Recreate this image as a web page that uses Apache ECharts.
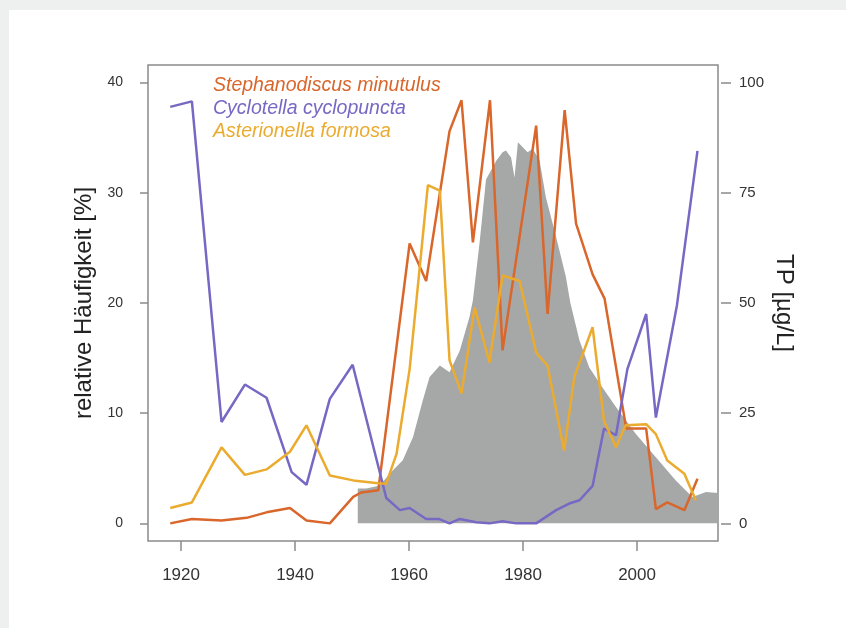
<!DOCTYPE html>
<html>
<head>
<meta charset="utf-8">
<script src="https://cdn.jsdelivr.net/npm/echarts@6/dist/echarts.min.js"></script>
<style>
html,body{margin:0;padding:0;background:#eef0ef;}
#card{position:absolute;left:9px;top:10px;width:837px;height:618px;background:#ffffff;}
#chart{position:absolute;left:0;top:0;width:846px;height:628px;}
</style>
</head>
<body>
<div id="card"></div>
<div id="chart"></div>
<script>
// ---- data ----
var xTicks = [1920, 1940, 1960, 1980, 2000];
var leftTicks = [0, 10, 20, 30, 40];
var rightTicks = [0, 25, 50, 75, 100];

var tpYears = [1951.0, 1952.5, 1954.9, 1956.6, 1958.9, 1960.7, 1962.4, 1963.6, 1965.4, 1967.1, 1968.9, 1970.6, 1971.2, 1972.4, 1973.5, 1975.3, 1976.4, 1977.0, 1977.9, 1978.5, 1979.1, 1980.0, 1980.8, 1981.7, 1982.9, 1984.0, 1985.8, 1987.5, 1988.3, 1989.9, 1991.6, 1993.9, 1996.3, 1999.8, 2003.3, 2006.8, 2009.7, 2012.1, 2014.2];
var tpValues = [7.9, 7.9, 8.6, 11.3, 14.3, 19.6, 27.9, 33.2, 35.8, 34.3, 39.2, 46.8, 50.6, 64.0, 78.0, 82.3, 84.2, 84.6, 83.0, 78.5, 86.5, 85.3, 84.2, 85.0, 82.3, 74.0, 65.0, 56.0, 50.0, 41.5, 35.4, 30.9, 26.4, 20.3, 15.0, 9.75, 6.0, 7.1, 6.9];

var stephYears = [1918.1, 1921.9, 1927.1, 1931.5, 1935.0, 1939.1, 1942.0, 1946.1, 1950.2, 1951.6, 1954.6, 1960.1, 1963.0, 1967.1, 1969.2, 1971.2, 1974.2, 1976.4, 1982.3, 1984.3, 1987.3, 1989.3, 1992.2, 1994.3, 1998.1, 2001.6, 2003.3, 2005.3, 2008.3, 2010.6];
var stephValues = [0, 0.4, 0.27, 0.5, 1.0, 1.4, 0.27, 0, 2.4, 2.8, 3.0, 25.4, 22.0, 35.6, 38.4, 25.5, 38.4, 15.7, 36.1, 19.0, 37.5, 27.2, 22.6, 20.4, 8.6, 8.6, 1.3, 1.9, 1.2, 4.05];

var cycloYears = [1918.1, 1921.9, 1927.1, 1931.2, 1935.0, 1939.4, 1942.0, 1946.1, 1950.1, 1956.0, 1958.4, 1960.1, 1963.0, 1965.2, 1967.1, 1968.9, 1971.8, 1974.1, 1976.4, 1978.8, 1982.3, 1985.8, 1988.1, 1989.9, 1992.2, 1994.2, 1996.3, 1998.3, 2001.6, 2003.3, 2007.0, 2010.6];
var cycloValues = [37.8, 38.3, 9.2, 12.6, 11.4, 4.65, 3.5, 11.3, 14.4, 2.3, 1.2, 1.4, 0.4, 0.4, 0, 0.4, 0.1, 0, 0.2, 0, 0, 1.2, 1.8, 2.1, 3.4, 8.6, 8.0, 14.0, 19.0, 9.6, 19.8, 33.8];

var asterYears = [1918.1, 1921.9, 1927.1, 1931.2, 1935.0, 1939.1, 1942.0, 1946.1, 1950.2, 1954.6, 1956.0, 1957.8, 1960.1, 1963.3, 1965.4, 1967.1, 1969.2, 1971.5, 1974.1, 1976.4, 1979.4, 1982.3, 1984.3, 1987.2, 1989.0, 1992.2, 1994.2, 1996.3, 1998.0, 2001.6, 2003.3, 2005.3, 2008.3, 2010.3];
var asterValues = [1.4, 1.9, 6.9, 4.4, 4.9, 6.5, 8.9, 4.35, 3.9, 3.65, 3.6, 6.3, 14.0, 30.7, 30.2, 14.8, 11.8, 19.6, 14.6, 22.5, 22.0, 15.5, 14.3, 6.6, 13.3, 17.8, 9.3, 6.9, 8.9, 9.0, 8.1, 5.7, 4.5, 2.1];

var names = ['Stephanodiscus minutulus', 'Cyclotella cyclopuncta', 'Asterionella formosa'];
var colors = ['#d9662b', '#7768c4', '#ebab2f'];

function pairs(xs, ys) { return xs.map(function (x, i) { return [x, ys[i]]; }); }

var font = '"Liberation Sans", Arial, Helvetica, sans-serif';
var axisGray = '#8a8a8a';

var chart = echarts.init(document.getElementById('chart'), null, {renderer: 'canvas'});
chart.setOption({
  animation: false,
  backgroundColor: 'transparent',
  grid: {left: 148, right: 128, top: 65, bottom: 87, show: true, borderColor: axisGray, borderWidth: 1.5, backgroundColor: 'transparent'},
  legend: {
    orient: 'vertical', left: 203, top: 70, itemWidth: 0, itemHeight: 0, itemGap: 2,
    selectedMode: false,
    textStyle: {fontFamily: font, fontStyle: 'italic', fontSize: 19.5, lineHeight: 21},
    data: names.map(function (n, i) { return {name: n, icon: 'none', textStyle: {color: colors[i]}}; })
  },
  xAxis: {
    type: 'value', min: 1914.2, max: 2014.2, position: 'bottom',
    axisLine: {show: false, onZero: false},
    splitLine: {show: false},
    axisTick: {show: true, length: 10, customValues: xTicks, lineStyle: {color: axisGray, width: 1.5}},
    axisLabel: {customValues: xTicks, margin: 26, color: '#333', fontFamily: font, fontSize: 17,
      formatter: function (v) { return String(v); }}
  },
  yAxis: [{
    type: 'value', min: -1.6, max: 41.6, position: 'left',
    axisLine: {show: false, onZero: false},
    splitLine: {show: false},
    axisTick: {show: true, length: 8, customValues: leftTicks, lineStyle: {color: axisGray, width: 1.5}},
    axisLabel: {customValues: leftTicks, margin: 25, color: '#333', fontFamily: font, fontSize: 14,
      formatter: function (v) { return String(v); }},
    name: 'relative Häufigkeit [%]', nameLocation: 'middle', nameGap: 52, nameRotate: 90,
    nameMoveOverlap: false,
    nameTextStyle: {fontFamily: font, fontSize: 24, color: '#222'}
  }, {
    type: 'value', min: -4, max: 104, position: 'right', offset: 3,
    axisLine: {show: false, onZero: false},
    splitLine: {show: false},
    axisTick: {show: true, length: 10, customValues: rightTicks, lineStyle: {color: axisGray, width: 1.5}},
    axisLabel: {customValues: rightTicks, margin: 18, color: '#333', fontFamily: font, fontSize: 15,
      formatter: function (v) { return String(v); }},
    name: 'TP [µg/L]', nameLocation: 'middle', nameGap: 51, nameRotate: -90,
    nameMoveOverlap: false,
    nameTextStyle: {fontFamily: font, fontSize: 24, color: '#222'}
  }],
  series: [{
    name: 'TP', type: 'line', yAxisIndex: 1, data: pairs(tpYears, tpValues),
    symbol: 'none', silent: true, z: 1,
    lineStyle: {width: 0}, areaStyle: {color: '#a6a8a8', opacity: 1}
  }, {
    name: names[0], type: 'line', data: pairs(stephYears, stephValues), symbol: 'none', z: 3,
    color: colors[0], lineStyle: {width: 2.5, color: colors[0]}
  }, {
    name: names[1], type: 'line', data: pairs(cycloYears, cycloValues), symbol: 'none', z: 3,
    color: colors[1], lineStyle: {width: 2.5, color: colors[1]}
  }, {
    name: names[2], type: 'line', data: pairs(asterYears, asterValues), symbol: 'none', z: 3,
    color: colors[2], lineStyle: {width: 2.5, color: colors[2]}
  }]
});
</script>
</body>
</html>
